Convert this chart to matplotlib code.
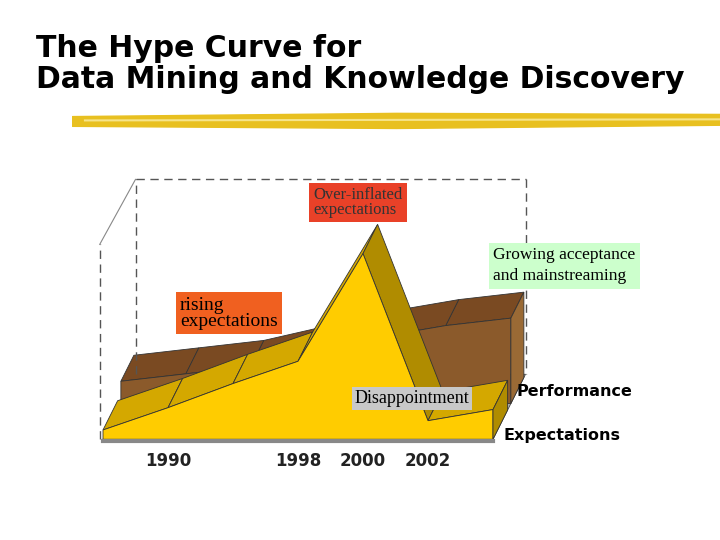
import matplotlib
matplotlib.use("Agg")
import matplotlib.pyplot as plt
from matplotlib.patches import Polygon
import numpy as np

categories = [0, 1, 2, 3, 4, 5, 6]
year_labels = ['', '1990', '', '1998', '2000', '2002', '']
expectations = [0.05, 0.17, 0.30, 0.42, 1.00, 0.10, 0.16]
performance = [0.12, 0.16, 0.20, 0.28, 0.36, 0.42, 0.46]
series_names = ['Expectations', 'Performance']

fig = plt.figure(figsize=(7.2, 5.4), dpi=100)
fig.text(0.05, 0.825, "The Hype Curve for\nData Mining and Knowledge Discovery",
         fontsize=21.5, fontweight='bold', family='DejaVu Sans', va='bottom', linespacing=1.1)
# brush stroke
bx = fig.add_axes([0.1, 0.755, 0.9, 0.04]); bx.axis('off')
bx.fill_between([0, 0.5, 1], [0.3, 0.2, 0.35], [0.75, 0.9, 0.85], color='#e8c020')
bx.plot([0.02, 1], [0.55, 0.6], color='#f6e48a', lw=1.5)
bx.set_xlim(0, 1); bx.set_ylim(0, 1)

ax = fig.add_axes([0.125, 0.135, 0.65, 0.55])
ax.axis('off')
ax.set_xlim(-0.2, 7.0)
ax.set_ylim(-0.15, 1.45)
ax_z, ay_z = 0.5, 0.35  # oblique projection per depth unit

def P(x, y, z):
    return (x + z * ax_z, y + z * ay_z)

wall_kw = dict(color='#555555', lw=1, ls=(0, (6, 4)))
x0, y0 = P(0, 0, 1); x1, y1 = P(6, 0, 1)
ax.plot([x0, x0], [y0, 1.4], **wall_kw)
ax.plot([x0, x1], [1.4, 1.4], **wall_kw)
ax.plot([x1, x1], [1.4, y1], **wall_kw)
ax.plot([-0.05, -0.05], [0, 1.05], **wall_kw)
ax.plot([-0.05, x0], [1.05, 1.4], color='#888888', lw=0.8)

def slab(vals, z0, z1, face, top, side):
    xs = np.array(categories, float)
    for i in range(len(xs) - 1):
        a = P(xs[i], vals[i], z0); b = P(xs[i + 1], vals[i + 1], z0)
        c = P(xs[i + 1], vals[i + 1], z1); d = P(xs[i], vals[i], z1)
        col = top if vals[i + 1] >= vals[i] else side
        ax.add_patch(Polygon([a, b, c, d], closed=True, fc=col, ec='#333333', lw=0.6))
    front = [P(xs[0], 0, z0)] + [P(x, v, z0) for x, v in zip(xs, vals)] + [P(xs[-1], 0, z0)]
    ax.add_patch(Polygon(front, closed=True, fc=face, ec='#333333', lw=0.6))
    e = [P(xs[-1], 0, z0), P(xs[-1], vals[-1], z0), P(xs[-1], vals[-1], z1), P(xs[-1], 0, z1)]
    ax.add_patch(Polygon(e, closed=True, fc=side, ec='#333333', lw=0.6))

fl = [P(0, 0, 0), P(6, 0, 0), P(6, 0, 1), P(0, 0, 1)]
ax.add_patch(Polygon(fl, closed=True, fc='#b0b0b0', ec='#444444', lw=0.6))
slab(performance, 0.55, 0.95, '#8b5a2b', '#7a4a22', '#9a6a35')
slab(expectations, 0.0, 0.45, '#ffcc00', '#d4a800', '#b08c00')
ax.plot([0, 6], [-0.01, -0.01], color='#888888', lw=3)

for x, lab in zip(categories, year_labels):
    ax.text(x, -0.07, lab, ha='center', va='top', fontsize=12, fontweight='bold', color='#222222')

fig.text(0.70, 0.193, series_names[0], fontsize=11.5, fontweight='bold', ha='left', va='center')
fig.text(0.718, 0.275, series_names[1], fontsize=11.5, fontweight='bold', ha='left', va='center')

serif = 'Liberation Serif'
fig.text(0.435, 0.625, "Over-inflated\nexpectations", family=serif, fontsize=12, color='#333333',
         va='center', linespacing=0.9, bbox=dict(fc='#e94128', ec='none', pad=3))
fig.text(0.685, 0.508, "Growing acceptance\nand mainstreaming", family=serif, fontsize=12.5,
         va='center', linespacing=1.45, bbox=dict(fc='#ccffcc', ec='none', pad=3))
fig.text(0.25, 0.42, "rising\nexpectations", family=serif, fontsize=14, va='center',
         linespacing=0.95, bbox=dict(fc='#f06020', ec='none', pad=3))
fig.text(0.493, 0.262, "Disappointment", family=serif, fontsize=13, va='center',
         bbox=dict(fc='#c8c8c8', ec='none', pad=2))

fig.savefig("out.png", dpi=100)
